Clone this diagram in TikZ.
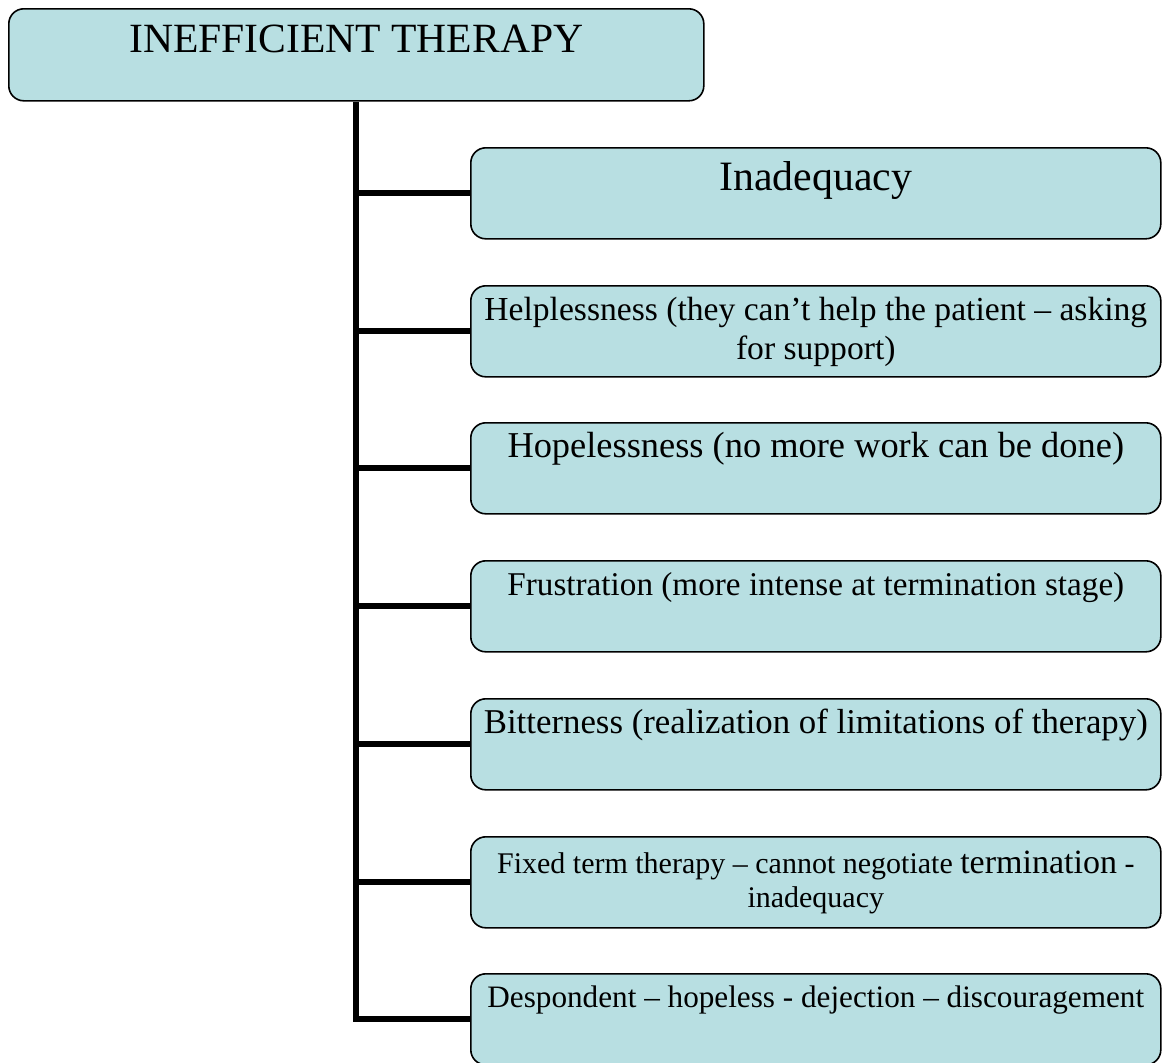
\documentclass[tikz,border=0pt]{standalone}
\usepackage{fontspec}
\setmainfont{Liberation Serif}
\usetikzlibrary{positioning}

\definecolor{cellblue}{RGB}{184,223,226}
% box text: width, height, baseline of first line, text
\newcommand{\celltext}[4]{\parbox[t][#2][t]{#1}{\centering\rule{0pt}{#3}#4}}
\newcommand{\fsz}[1]{\fontsize{#1}{19.5}\selectfont}

\begin{document}
\begin{tikzpicture}[x=0.5pt,y=-0.5pt,
	kid/.style={draw, fill=cellblue, line width=0.8pt, rounded corners=7.5pt,
		inner sep=0pt, anchor=north west, font=\fsz{16.6}},
	head/.style={kid, font=\fontsize{20.8}{25}\selectfont},
	link/.style={line width=3pt}]
			\useasboundingbox (0,0) rectangle (1162,1062);
			\node[head] (top) at (8,8) {\celltext{347.5pt}{46pt}{22pt}{INEFFICIENT THERAPY}};
			\node[kid, font=\fontsize{20.9}{24}\selectfont] (c1) at (470,147) {\celltext{345pt}{45.5pt}{21.5pt}{Inadequacy}};
			\node[kid, font=\fsz{16.8}] (c2) at (470,285) {\celltext{345pt}{45.5pt}{17.5pt}{Helplessness (they can’t help the patient – asking\\ for support)}};
			\node[kid, font=\fsz{18.2}] (c3) at (470,422) {\celltext{345pt}{45.5pt}{17.5pt}{Hopelessness (no more work can be done)}};
			\node[kid] (c4) at (470,560) {\celltext{345pt}{45.5pt}{17.5pt}{Frustration (more intense at termination stage)}};
			\node[kid, font=\fsz{17.4}] (c5) at (470,698) {\celltext{345pt}{45.5pt}{17.5pt}{Bitterness (realization of limitations of therapy)}};
			\node[kid, font=\fontsize{15}{17}\selectfont] (c6) at (470,836) {\celltext{345pt}{45.5pt}{18.5pt}{Fixed term therapy – cannot negotiate {\fontsize{17}{17}\selectfont termination} -\\ inadequacy}};
			\node[kid, font=\fsz{15.6}] (c7) at (470,973) {\celltext{345pt}{45.5pt}{17pt}{Despondent – hopeless - dejection – discouragement}};
			\draw[link] (top.south) |- (c7.west);
			\draw[link] (top.south |- c1.west) -- (c1.west);
			\draw[link] (top.south |- c2.west) -- (c2.west);
			\draw[link] (top.south |- c3.west) -- (c3.west);
			\draw[link] (top.south |- c4.west) -- (c4.west);
			\draw[link] (top.south |- c5.west) -- (c5.west);
			\draw[link] (top.south |- c6.west) -- (c6.west);
		\end{tikzpicture}
\end{document}
